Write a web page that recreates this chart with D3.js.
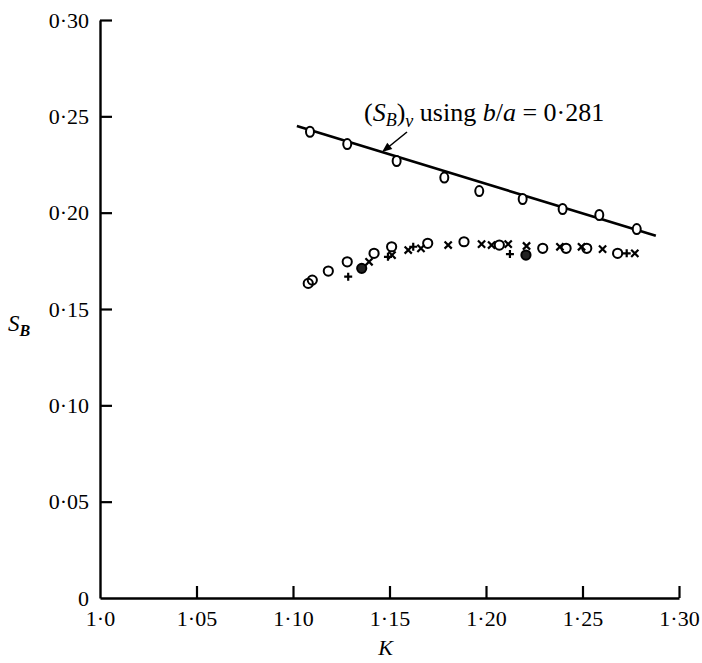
<!DOCTYPE html>
<html><head><meta charset="utf-8">
<script src="https://cdn.jsdelivr.net/npm/d3@7"></script>
<style>
html,body{margin:0;padding:0;background:#fff;}
svg{display:block;font-family:"Liberation Serif","DejaVu Serif",serif;}
</style></head>
<body>
<svg id="c" width="702" height="663"></svg>
<script>
// ---- data ----
const xTicks = [1.0, 1.05, 1.10, 1.15, 1.20, 1.25, 1.30];
const xTickLabels = ["1·0", "1·05", "1·10", "1·15", "1·20", "1·25", "1·30"];
const yTicks = [0, 0.05, 0.10, 0.15, 0.20, 0.25, 0.30];
const yTickLabels = ["0", "0·05", "0·10", "0·15", "0·20", "0·25", "0·30"];

// viscous line (S_B)_v using b/a = 0.281
const lineK = [1.102, 1.288];
const lineS = [0.2450, 0.1880];
const lineRunK = [1.1088, 1.1281, 1.1537, 1.1784, 1.1965, 1.2190, 1.2397, 1.2587, 1.2781];
const lineRunS = [0.2420, 0.2356, 0.2268, 0.2182, 0.2112, 0.2071, 0.2019, 0.1988, 0.1915];

// lower experimental points
const circleK = [1.1079, 1.1100, 1.1183, 1.1281, 1.1420, 1.1511, 1.1698, 1.1886, 1.2069, 1.2294, 1.2415, 1.2522, 1.2682];
const circleS = [0.1633, 0.1650, 0.1697, 0.1745, 0.1789, 0.1823, 0.1841, 0.1849, 0.1832, 0.1815, 0.1815, 0.1815, 0.1789];
const filledK = [1.1356, 1.2207];
const filledS = [0.1711, 0.1780];
const crossK = [1.1394, 1.1513, 1.1597, 1.1663, 1.1804, 1.1977, 1.2029, 1.2115, 1.2210, 1.2383, 1.2495, 1.2604, 1.2771];
const crossS = [0.1745, 0.1780, 0.1806, 0.1815, 0.1832, 0.1837, 0.1832, 0.1837, 0.1827, 0.1823, 0.1823, 0.1811, 0.1789];
const plusK = [1.1286, 1.1492, 1.1623, 1.2124, 1.2729];
const plusS = [0.1668, 0.1771, 0.1823, 0.1785, 0.1789];

// ---- chart ----
const svg = d3.select("#c");
const x = d3.scaleLinear().domain([1.0, 1.30]).range([100, 679]);
const y = d3.scaleLinear().domain([0, 0.30]).range([598, 20]);

const xAxis = d3.axisBottom(x).tickValues(xTicks)
  .tickFormat((d, i) => xTickLabels[i]).tickSizeInner(-12).tickSizeOuter(0).tickPadding(12);
const yAxis = d3.axisLeft(y).tickValues(yTicks)
  .tickFormat((d, i) => yTickLabels[i]).tickSizeInner(-12).tickSizeOuter(0).tickPadding(11);

const gx = svg.append("g").attr("transform", `translate(0,${y(0)})`).call(xAxis);
const gy = svg.append("g").attr("transform", `translate(${x(1.0)},0)`).call(yAxis);
[gx, gy].forEach(g => {
  g.select(".domain").attr("stroke", "#000").attr("stroke-width", 2.4);
  g.selectAll(".tick line").attr("stroke", "#000").attr("stroke-width", 2.2);
  g.selectAll(".tick text").attr("fill", "#000").attr("font-size", 22)
    .attr("font-family", "Liberation Serif, serif");
});
gx.selectAll(".tick").filter((d) => d === 1.0).select("line").remove();
gy.selectAll(".tick").filter((d) => d === 0).select("line").remove();

// axis titles
svg.append("text").attr("x", x(1.15) - 4).attr("y", 655)
  .attr("text-anchor", "middle").attr("font-size", 22).attr("font-style", "italic").text("K");
const sb = svg.append("text").attr("x", 8).attr("y", 331).attr("font-size", 23).attr("font-style", "italic");
sb.append("tspan").text("S");
sb.append("tspan").attr("font-size", 16).attr("font-weight", "bold").attr("dy", 5).text("B");

// fitted line
svg.append("line")
  .attr("x1", x(lineK[0])).attr("y1", y(lineS[0]))
  .attr("x2", x(lineK[1])).attr("y2", y(lineS[1]))
  .attr("stroke", "#000").attr("stroke-width", 2.6);

// label with arrow
const lab = svg.append("text").attr("x", 364).attr("y", 121).attr("font-size", 26);
lab.append("tspan").text("(");
lab.append("tspan").attr("font-style", "italic").text("S");
lab.append("tspan").attr("font-style", "italic").attr("font-size", 18).attr("dy", 5).text("B");
lab.append("tspan").attr("dy", -5).text(")");
lab.append("tspan").attr("font-style", "italic").attr("font-size", 18).attr("dy", 6).text("v");
lab.append("tspan").attr("dy", -6).text(" using ");
lab.append("tspan").attr("font-style", "italic").text("b");
lab.append("tspan").text("/");
lab.append("tspan").attr("font-style", "italic").text("a");
lab.append("tspan").text(" = 0·281");

const ax0 = 407, ay0 = 132, ax1 = 382, ay1 = 152;
svg.append("line").attr("x1", ax0).attr("y1", ay0).attr("x2", ax1 + 4).attr("y2", ay1 - 3)
  .attr("stroke", "#000").attr("stroke-width", 1.6);
{
  const ang = Math.atan2(ay1 - ay0, ax1 - ax0), L = 10, W = 4;
  const bx = ax1 - L * Math.cos(ang), by = ay1 - L * Math.sin(ang);
  const px = -Math.sin(ang) * W, py = Math.cos(ang) * W;
  svg.append("path").attr("d", `M${ax1},${ay1}L${bx + px},${by + py}L${bx - px},${by - py}Z`).attr("fill", "#000");
}

// points on line
svg.selectAll(".lp").data(lineRunK).enter().append("ellipse")
  .attr("cx", (d) => x(d)).attr("cy", (d, i) => y(lineRunS[i]))
  .attr("rx", 4).attr("ry", 5)
  .attr("fill", "#fff").attr("stroke", "#000").attr("stroke-width", 2);

// open circles
svg.selectAll(".oc").data(circleK).enter().append("circle")
  .attr("cx", (d) => x(d)).attr("cy", (d, i) => y(circleS[i])).attr("r", 4.6)
  .attr("fill", "none").attr("stroke", "#000").attr("stroke-width", 2);
// filled-ish circles
svg.selectAll(".fc").data(filledK).enter().append("circle")
  .attr("cx", (d) => x(d)).attr("cy", (d, i) => y(filledS[i])).attr("r", 4.6)
  .attr("fill", "#222").attr("stroke", "#000").attr("stroke-width", 2);
// crosses
const s = 3.6;
svg.selectAll(".cx").data(crossK).enter().append("path")
  .attr("d", (d, i) => {
    const cx = x(d), cy = y(crossS[i]);
    return `M${cx - s},${cy - s}L${cx + s},${cy + s}M${cx - s},${cy + s}L${cx + s},${cy - s}`;
  })
  .attr("stroke", "#000").attr("stroke-width", 2.2).attr("fill", "none");
// plus
const p = 4;
svg.selectAll(".px").data(plusK).enter().append("path")
  .attr("d", (d, i) => {
    const cx = x(d), cy = y(plusS[i]);
    return `M${cx - p},${cy}L${cx + p},${cy}M${cx},${cy - p}L${cx},${cy + p}`;
  })
  .attr("stroke", "#000").attr("stroke-width", 2.2).attr("fill", "none");
</script>
</body></html>
